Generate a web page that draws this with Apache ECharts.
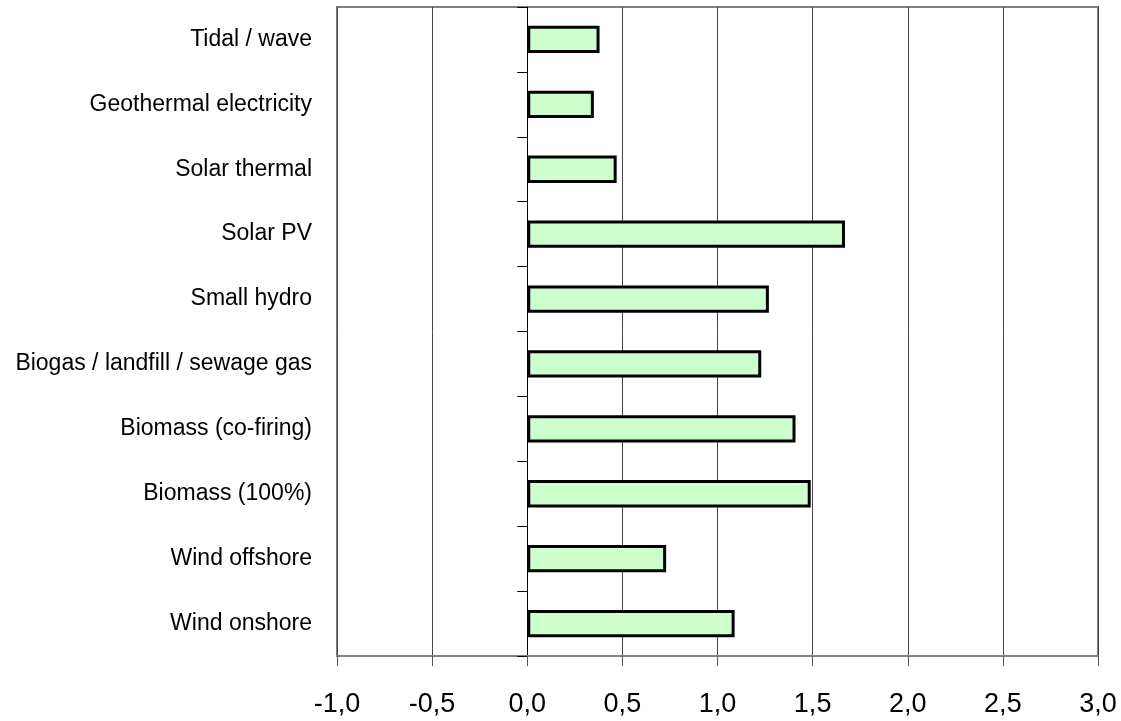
<!DOCTYPE html>
<html>
<head>
<meta charset="utf-8">
<script src="https://cdn.jsdelivr.net/npm/echarts@6/dist/echarts.min.js"></script>
<style>
html, body { margin: 0; padding: 0; background: #fff; }
#chart { width: 1121px; height: 721px; }
</style>
</head>
<body>
<div id="chart"></div>
<script>
// categories, bottom to top
var categories = ['Wind onshore', 'Wind offshore', 'Biomass (100%)', 'Biomass (co-firing)',
    'Biogas / landfill / sewage gas', 'Small hydro', 'Solar PV', 'Solar thermal',
    'Geothermal electricity', 'Tidal / wave'];
var values = [1.09, 0.73, 1.49, 1.41, 1.23, 1.27, 1.67, 0.47, 0.35, 0.38];
var xTicks = [-1, -0.5, 0, 0.5, 1, 1.5, 2, 2.5, 3];

var font = "'Liberation Sans Narrow', 'Arial Narrow', 'Liberation Sans', sans-serif";
var myChart = echarts.init(document.getElementById('chart'));

myChart.setOption({
    animation: false,
    grid: {
        left: 337, right: 23, top: 7, bottom: 65,
        show: true, borderColor: '#808080', borderWidth: 2
    },
    xAxis: {
        type: 'value',
        min: xTicks[0],
        max: xTicks[xTicks.length - 1],
        interval: 0.5,
        axisLine: { show: true, onZero: false, lineStyle: { color: '#808080', width: 2 } },
        axisTick: { show: true, length: 10, lineStyle: { color: '#555' } },
        axisLabel: {
            margin: 35,
            fontFamily: font, fontSize: 27, color: '#000',
            formatter: function (v) { return v.toFixed(1).replace('.', ','); }
        },
        splitLine: { show: true, lineStyle: { color: '#444', width: 1 } }
    },
    yAxis: [{
        type: 'category',
        data: categories,
        position: 'left',
        axisLine: { show: false, onZero: false },
        axisTick: { show: false },
        axisLabel: { margin: 25, fontFamily: font, fontSize: 23, color: '#000' }
    }, {
        type: 'category',
        data: categories,
        position: 'left',
        axisLine: { show: true, onZero: true, lineStyle: { color: '#000', width: 1 } },
        axisTick: { show: true, length: 10, lineStyle: { color: '#000' } },
        axisLabel: { show: false }
    }],
    series: [{
        type: 'bar',
        data: values,
        yAxisIndex: 0,
        barCategoryGap: '58%',
        itemStyle: { color: '#ccffcc', borderColor: '#000', borderWidth: 3 }
    }]
});
</script>
</body>
</html>
